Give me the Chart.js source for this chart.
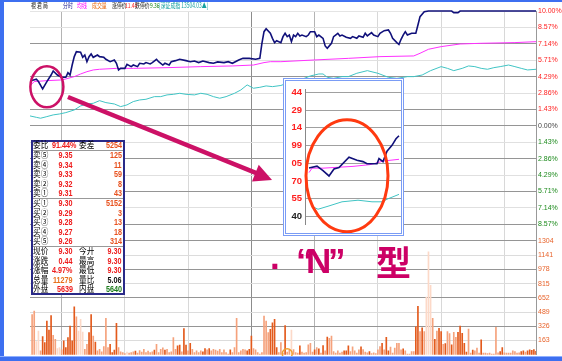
<!DOCTYPE html>
<html>
<head>
<meta charset="utf-8">
<script src="https://cdn.jsdelivr.net/npm/chart.js@4.4.1/dist/chart.umd.min.js"></script>
<style>
  html, body { margin: 0; padding: 0; background: #fff; }
  #wrap { position: relative; width: 562px; height: 361px; overflow: hidden; background: #fff;
          font-family: "Liberation Sans", "Noto Sans CJK SC", sans-serif; }
  #main { position: absolute; left: 0; top: 0; }
  .blue { position: absolute; background: #3d6ff0; }
  .hd { position: absolute; top: 1px; font-size: 7px; line-height: 9px; white-space: nowrap;
        transform: scaleX(.7); transform-origin: 0 0; font-family: "Noto Sans CJK SC", sans-serif; }
  #book { position: absolute; left: 31px; top: 140px; width: 94px; height: 155px; box-sizing: border-box;
          border: 2px solid #2a2a88; background: #fff; }
  .sep { position: absolute; left: 33px; width: 90px; height: 1px; background: #999; }
  .bk { position: absolute; line-height: 10px; height: 10px; white-space: nowrap; }
  .bk.l { font-size: 9px; transform: scaleX(.85); transform-origin: 0 50%; font-family: "Noto Sans CJK SC", sans-serif; }
  .bk.r { font-size: 9px; font-weight: bold; transform: scaleX(.8); transform-origin: 100% 50%; font-family: "Liberation Sans", sans-serif; }
  #inset { position: absolute; left: 283px; top: 78px; width: 121px; height: 158px; box-sizing: border-box;
           border: 3px double #7a9cf5; background: #fff; }
  #insetCv { position: absolute; left: 0; top: 0; }
  .nt { position: absolute; top: 243px; font-size: 35px; line-height: 35px; font-weight: bold; color: #cc0066;
        font-family: "Liberation Sans", "Noto Sans CJK SC", sans-serif; white-space: nowrap; }
</style>
</head>
<body>
<div id="wrap">
  <canvas id="main" width="562" height="361"></canvas>

  <div class="blue" style="left:0;top:0;width:4px;height:361px"></div>
  <div class="blue" style="left:0;top:0;width:562px;height:2px"></div>
  <div class="blue" style="left:0;top:356px;width:562px;height:5px;border-top:1px solid #8fb0ff;box-sizing:border-box"></div>

  <!-- 顶部标题栏 -->
  <span class="hd" style="left:31px;color:#222">視 君 局</span>
  <span class="hd" style="left:63px;color:#1a1a90">分时</span>
  <span class="hd" style="left:77px;color:#ff00ff">均线</span>
  <span class="hd" style="left:92px;color:#e8680c">成交量</span>
  <span class="hd" style="left:112px;color:#222">涨停价</span>
  <span class="hd" style="left:125px;color:#ff2020">11.44</span>
  <span class="hd" style="left:135px;color:#222">跌停价</span>
  <span class="hd" style="left:150px;color:#108010">9.36</span>
  <span class="hd" style="left:159px;color:#14a0a0">[深证成指 13504.03▲]</span>

  <div id="book"></div>

  <div id="inset"><canvas id="insetCv" width="115" height="152"></canvas></div>

  <span class="nt" style="left:270px;top:239px">.</span>
  <span class="nt" style="left:296px">“</span>
  <span class="nt" style="left:306px">N</span>
  <span class="nt" style="left:328px">”</span>
  <span class="nt" style="left:376px;font-family:'Noto Sans CJK SC',sans-serif">型</span>
</div>

<script>
// ================================================================
//  分时图（涨停 "N" 型示意）
//  x : 交易分钟 0..240 ；价格轴为涨跌幅 %，量能轴为手数
// ================================================================

// ── 分时价格线（分钟, 涨跌幅%）────────────────────────────
const priceT   = [0, 3, 4, 6, 8, 10, 11, 13, 15, 17, 18, 19, 20, 21, 22, 24, 25, 26, 27, 28, 29, 30, 32, 33, 35, 36, 38, 40, 41, 42,
                  43, 45, 46, 48, 49, 51, 52, 54, 55, 57, 58, 60, 61, 63, 64, 66, 67, 69, 71, 74, 76, 78, 80, 82, 85, 87, 89, 92, 94, 96,
                  99, 101, 104, 107, 109, 110, 111, 112, 114, 115, 116, 117, 119, 120, 121, 122, 123, 124, 125, 126, 127, 128, 129, 131, 132, 133, 135, 136, 137, 139,
                  140, 141, 143, 144, 146, 147, 148, 150, 152, 153, 155, 156, 158, 159, 160, 162, 163, 165, 166, 168, 170, 171, 172, 174, 175, 176, 177, 178, 179, 181,
                  183, 184, 185, 187, 189, 200, 201, 203, 204, 240];
const pricePct = [3.91, 4.06, 3.86, 3.22, 3.86, 4.43, 4.78, 4.43, 4.23, 4.23, 4.64, 4.43, 5.30, 6.03, 6.46, 6.41, 5.97, 6.17, 5.59, 6.03, 6.26, 5.97, 6.17, 6.03, 5.97, 5.80, 5.59, 5.74, 5.45, 4.87,
                  5.01, 5.01, 5.36, 5.16, 5.30, 5.16, 5.45, 5.39, 5.51, 5.39, 5.51, 5.80, 5.59, 5.30, 5.45, 5.30, 5.59, 5.68, 5.80, 5.68, 5.59, 5.65, 5.51, 5.65, 5.51, 5.45, 5.57, 5.51, 5.59, 5.45,
                  5.74, 5.88, 5.88, 5.80, 5.88, 7.19, 8.20, 8.46, 8.06, 7.62, 7.25, 7.42, 7.25, 7.77, 8.06, 7.77, 7.91, 7.33, 7.91, 7.77, 8.06, 7.83, 7.91, 7.77, 7.91, 8.20, 8.20, 7.77, 7.91, 7.62,
                  6.96, 6.75, 7.19, 7.77, 8.06, 7.83, 7.91, 7.71, 7.62, 7.77, 7.62, 7.83, 7.71, 8.06, 7.83, 8.12, 7.91, 7.77, 8.06, 8.29, 8.35, 8.06, 7.62, 7.25, 7.10, 7.54, 7.91, 8.20, 7.91, 8.06,
                  8.06, 8.78, 9.51, 9.94, 10.00, 10.00, 9.86, 9.86, 10.00, 10.00];

// ── 均价线 ─────────────────────────────────────────────────
const avgT   = [0, 2, 8, 15, 17, 21, 24, 27, 30, 33, 41, 49, 65, 81, 96, 106, 111, 114, 119, 135, 151, 166, 182, 185, 189, 195, 204, 214, 230, 240];
const avgPct = [3.48, 3.86, 3.94, 4.00, 4.09, 4.29, 4.52, 4.72, 4.87, 4.93, 5.01, 5.01, 5.07, 5.16, 5.22, 5.30, 5.51, 5.59, 5.59, 5.74, 5.88, 6.03, 6.09, 6.32, 6.67, 6.90, 7.13, 7.19, 7.25, 7.33];

// ── 大盘（深证成指）叠加线 ─────────────────────────────────
const idxT   = [0, 3, 5, 8, 11, 14, 17, 21, 24, 27, 30, 33, 36, 40, 43, 46, 49, 52, 55, 59, 62, 65, 68, 71, 74, 78, 81, 84, 87, 90,
                93, 97, 100, 103, 106, 109, 112, 115, 119, 124, 129, 133, 137, 139, 141, 144, 148, 151, 155, 160, 165, 170, 174, 179, 182, 186, 190, 195, 198, 201,
                205, 208, 211, 214, 217, 220, 223, 227, 230, 233, 236, 240];
const idxPct = [0.87, 0.75, 0.67, 0.81, 0.96, 1.04, 1.16, 1.39, 1.74, 1.91, 1.97, 2.20, 2.03, 1.91, 1.68, 1.83, 2.12, 2.26, 2.32, 2.55, 2.55, 2.70, 2.75, 2.84, 2.75, 2.70, 2.84, 2.75, 2.55, 2.41,
                2.55, 2.84, 3.13, 3.57, 3.28, 3.36, 3.48, 3.42, 3.52, 3.86, 4.06, 4.35, 4.52, 4.52, 4.23, 4.14, 4.29, 4.29, 4.58, 4.81, 4.58, 4.23, 4.14, 4.29, 4.29, 4.43, 4.81, 5.16, 5.01, 4.81,
                5.01, 5.22, 5.16, 5.01, 4.93, 5.07, 5.16, 5.30, 5.16, 5.01, 4.87, 4.93];

// ── 每分钟成交量（手），分钟 0..240 ─────────────────────────
const volume = [
  0, 461, 499, 150, 272, 45, 208, 140, 386, 283,      450, 223, 178, 72, 83, 57, 159, 83, 197, 329,
  159, 548, 435, 272, 405, 261, 64, 121, 253, 461,    215, 147, 45, 64, 34, 95, 416, 83, 121, 26,
  53, 359, 83, 34, 26, 15, 30, 20, 25, 35,            42, 20, 49, 30, 64, 25, 42, 26, 34, 53,
  121, 26, 64, 79, 53, 64, 26, 34, 197, 64,           102, 110, 34, 299, 110, 45, 132, 64, 26, 45,
  26, 45, 34, 72, 57, 72, 45, 64, 53, 42,             64, 26, 57, 26, 8, 57, 26, 83, 416, 26,
  45, 64, 57, 45, 64, 215, 72, 57, 26, 8,             26, 442, 386, 253, 291, 367, 405, 83, 26, 140,
  20, 333, 30, 50, 283, 60, 25, 19, 102, 30,          19, 25, 113, 132, 30, 57, 83, 68, 19, 106,
  45, 204, 189, 215, 38, 19, 45, 19, 30, 45,          45, 102, 38, 91, 45, 19, 57, 91, 60, 30,
  23, 38, 15, 23, 15, 57, 95, 132, 57, 200,           45, 87, 19, 76, 132, 132, 57, 68, 45, 8,
  8, 38, 38, 321, 556, 265, 310, 265, 662, 1179,      794, 416, 178, 272, 302, 265, 121, 128, 265, 242,
  113, 257, 200, 257, 329, 246, 132, 30, 295, 19,     53, 45, 76, 19, 170, 19, 19, 15, 19, 8,
  8, 314, 23, 38, 83, 23, 19, 19, 19, 45,             38, 19, 23, 38, 45, 30, 45, 57, 50, 60,
  40
];
// 1 = 外盘（主动买）, -1 = 内盘（主动卖）, 0 = 中性
const volDir = [
  0, -1, -1, 0, 0, -1, 1, 1, 1, 1,        1, -1, -1, 0, 0, -1, 1, 1, 1, 1,
  1, 1, -1, 0, 0, 0, -1, -1, 1, 1,        -1, 1, -1, -1, -1, -1, -1, -1, 1, 1,
  1, 1, -1, -1, -1, -1, 0, -1, -1, -1,    1, -1, -1, -1, -1, -1, -1, -1, -1, 1,
  -1, -1, -1, -1, 1, -1, -1, -1, -1, -1,  1, 1, -1, 1, 1, -1, 1, -1, -1, -1,
  -1, -1, 1, 1, -1, 1, -1, -1, -1, -1,    -1, -1, -1, -1, -1, 1, -1, -1, -1, -1,
  -1, -1, -1, 1, 1, 1, -1, -1, -1, -1,    -1, -1, -1, -1, 1, 1, 1, 1, -1, -1,
  -1, 1, -1, -1, 0, -1, -1, -1, 1, -1,    -1, -1, -1, -1, -1, 1, -1, 1, -1, 1,
  -1, 1, -1, -1, -1, -1, -1, -1, -1, 1,   1, 1, -1, -1, -1, -1, -1, 1, -1, -1,
  -1, 1, -1, -1, -1, -1, -1, 1, -1, 1,    1, -1, -1, -1, -1, -1, -1, 1, -1, -1,
  -1, -1, -1, 1, 1, -1, 1, -1, 0, 0,      0, -1, 1, -1, 1, 1, -1, 1, -1, -1,
  1, -1, -1, 1, 1, 1, 1, 1, -1, -1,       1, -1, -1, -1, 1, -1, -1, -1, -1, -1,
  -1, -1, -1, 1, 1, -1, -1, -1, -1, -1,   -1, -1, -1, 1, 1, -1, 1, 1, 1, 1,
  1
];

// ── 坐标刻度 ──────────────────────────────────────────────
const timeTicks = [0, 30, 60, 90, 120, 150, 180, 210, 240];
const pctTicks  = [10.00, 8.57, 7.14, 5.71, 4.29, 2.86, 1.43, 0.00, -1.43, -2.86, -4.29, -5.71, -7.14, -8.57];
const volTicks  = [163, 326, 489, 652, 815, 978, 1141, 1304];

// ── 局部放大图（N 型）────────────────────────────────────
const insetLabels   = ['40', '55', '70', '05', '99', '14', '29', '44'];   // 从下到上
const insetT        = [4, 12, 18, 24, 29, 34, 44, 52, 58, 62, 72, 74, 78, 82, 87, 91, 94];
const insetPrice    = [2.73, 2.83, 2.58, 2.28, 2.67, 2.75, 3.34, 3.17, 3.09, 2.97, 2.97, 3.26, 3.09, 3.68, 4.01, 4.38, 4.55];
const insetAvgT     = [4, 7, 18, 48, 65, 72, 78, 94];
const insetAvg      = [2.47, 2.72, 2.72, 2.82, 2.92, 3.02, 3.12, 3.22];
const insetIdxT     = [7, 13, 23, 37, 53, 67, 77, 83, 94];
const insetIdx      = [0.57, 0.40, 0.57, 0.82, 0.91, 0.82, 0.82, 0.99, 1.24];

// ── 五档盘口 ──────────────────────────────────────────────
const askLabels  = ['卖⑤', '卖④', '卖③', '卖②', '卖①'];
const askPrices  = ['9.35', '9.34', '9.33', '9.32', '9.31'];
const askVols    = ['125', '11', '59', '8', '43'];
const bidLabels  = ['买①', '买②', '买③', '买④', '买⑤'];
const bidPrices  = ['9.30', '9.29', '9.28', '9.27', '9.26'];
const bidVols    = ['5152', '3', '13', '18', '314'];
const quoteLeft  = [['现价', '9.30'], ['涨跌', '0.44'], ['涨幅', '4.97%'], ['总量', '11279'], ['外盘', '5639']];
const quoteRight = [['今开', '9.30'], ['最高', '9.30'], ['最低', '9.30'], ['量比', '5.06'], ['内盘', '5640']];

// ================================================================
const RED = '#ee1c1c', ORG = '#e8501c', GRN = '#1a7a1a';
const pts = (xs, ys) => xs.map((x, i) => ({ x: x, y: ys[i] }));
const tv  = c => (c && c.tick) ? c.tick.value : null;   // tick value (null hors ticks)

// ── 盘口文字（HTML）────────────────────────────────────────
(function buildBook() {
  const wrap = document.getElementById('wrap');
  function put(text, x, yc, color, right) {
    const s = document.createElement('span');
    s.className = 'bk ' + (right ? 'r' : 'l');
    s.textContent = text;
    s.style.top = (yc - 5) + 'px';
    s.style.color = color;
    if (right) s.style.right = (562 - x) + 'px'; else s.style.left = x + 'px';
    wrap.appendChild(s);
  }
  put('委比', 33, 145, '#000'); put('91.44%', 77, 145, RED, true);
  put('委差', 79, 145, '#000'); put('5254', 122, 145, ORG, true);
  const askY = [155, 164.5, 174, 183.5, 193];
  askLabels.forEach(function (l, i) {
    put(l, 33, askY[i], '#000'); put(askPrices[i], 73, askY[i], RED, true); put(askVols[i], 122, askY[i], ORG, true);
  });
  const bidY = [203, 212.5, 222, 231.5, 241];
  bidLabels.forEach(function (l, i) {
    put(l, 33, bidY[i], '#000'); put(bidPrices[i], 73, bidY[i], RED, true); put(bidVols[i], 122, bidY[i], ORG, true);
  });
  const qY = [251, 260.5, 270, 279.5, 289];
  const rightCol = [RED, RED, RED, '#111', GRN];
  const leftCol  = [RED, RED, RED, '#e8701c', RED];
  quoteLeft.forEach(function (q, i) {
    put(q[0], 33, qY[i], '#000'); put(q[1], 73, qY[i], leftCol[i], true);
    put(quoteRight[i][0], 79, qY[i], '#000'); put(quoteRight[i][1], 122, qY[i], rightCol[i], true);
  });
  [150, 198, 246].forEach(function (y) {
    const d = document.createElement('div'); d.className = 'sep'; d.style.top = y + 'px'; wrap.appendChild(d);
  });
})();

// ── 圈 + 箭头 ─────────────────────────────────────────────
const markPlugin = {
  id: 'marks',
  afterDatasetsDraw(chart) {
    const c = chart.ctx, x = chart.scales.x, y = chart.scales.yp;
    c.save();
    c.strokeStyle = '#cc1166'; c.fillStyle = '#cc1166';
    c.lineWidth = 2.5;
    c.beginPath();
    c.ellipse(x.getPixelForValue(8), y.getPixelForValue(3.4), 16.5, 20.5, 0, 0, Math.PI * 2);
    c.stroke();

    const x0 = x.getPixelForValue(18), y0 = y.getPixelForValue(2.52);
    const x1 = x.getPixelForValue(114.8), y1 = y.getPixelForValue(-4.7);
    const a = Math.atan2(y1 - y0, x1 - x0), hl = 18, hw = 9;
    const bx = x1 - hl * Math.cos(a), by = y1 - hl * Math.sin(a);
    c.lineWidth = 4.5;
    c.beginPath(); c.moveTo(x0, y0); c.lineTo(bx + 1, by); c.stroke();
    c.beginPath();
    c.moveTo(x1, y1);
    c.lineTo(bx + hw * Math.sin(a), by - hw * Math.cos(a));
    c.lineTo(bx - hw * Math.sin(a), by + hw * Math.cos(a));
    c.closePath(); c.fill();

    // 底部小光标
    c.strokeStyle = '#f0a030'; c.lineWidth = 1.5;
    c.beginPath(); c.arc(x.getPixelForValue(122), chart.chartArea.bottom - 1, 5, 0, Math.PI * 2); c.stroke();
    c.restore();
  }
};

const pctK = v => Math.round(v * 7 / 10);

new Chart(document.getElementById('main'), {
  type: 'line',
  data: {
    datasets: [
      { data: pts(priceT, pricePct), yAxisID: 'yp', borderColor: '#10107a', borderWidth: 1.6,
        pointRadius: 0, tension: 0, order: 1, clip: { left: 0, top: 3, right: 0, bottom: 0 } },
      { data: pts(avgT, avgPct), yAxisID: 'yp', borderColor: '#ff30ff', borderWidth: 1,
        pointRadius: 0, tension: 0, order: 2 },
      { data: pts(idxT, idxPct), yAxisID: 'yp', borderColor: '#40c4c4', borderWidth: 1,
        pointRadius: 0, tension: 0, order: 3 },
      { type: 'bar', data: volume.map((v, t) => ({ x: t, y: v })), yAxisID: 'yv', order: 4,
        barThickness: 1,
        backgroundColor: volDir.map(d => d > 0 ? '#e35a1c' : (d < 0 ? '#f5a27c' : '#fcd9c8')) }
    ]
  },
  options: {
    responsive: false,
    animation: false,
    events: [],
    layout: { padding: { left: 30, top: 11, right: 0, bottom: 6 } },
    plugins: { legend: { display: false }, tooltip: { enabled: false } },
    scales: {
      x: {
        type: 'linear', min: 0, max: 240, offset: false,
        afterBuildTicks: s => { s.ticks = timeTicks.map(v => ({ value: v })); },
        ticks: { display: false },
        border: { display: false, color: '#999' },
        grid: { drawTicks: false,
                color: c => { const v = tv(c);
                              if (v === null || v === 0) return '#999';
                              if (v === 120) return '#8c8c8c';
                              return v % 120 === 30 ? '#b4b4b4' : '#d8d8d8'; } }
      },
      yp: {
        type: 'linear', position: 'right', min: -10, max: 10,
        stack: 'main', stackWeight: 230,
        afterBuildTicks: s => { s.ticks = pctTicks.map(v => ({ value: v })); },
        afterFit: s => { s.width = 26; },
        border: { display: true, color: '#999' },
        grid: { drawTicks: false,
                color: c => { const v = tv(c); if (v === null) return '#999';
                              const k = pctK(v);
                              if (k === 7) return '#e4e4e4';
                              return ((k > 0 && k % 2 !== 0) || (k <= 0 && k % 2 === 0)) ? '#959595' : '#e0e0e0'; } },
        ticks: {
          autoSkip: false,
          padding: 2,
          font: { family: 'Liberation Sans', size: 7 },
          color: c => { const v = tv(c); return v === null ? '#444' : (v > 0.01 ? '#ff2020' : (v < -0.01 ? '#1c8a1c' : '#444')); },
          callback: v => Math.abs(v).toFixed(2) + '%'
        }
      },
      yv: {
        type: 'linear', position: 'right', min: 0, max: 1304,
        stack: 'main', stackWeight: 114,
        afterBuildTicks: s => { s.ticks = volTicks.map(v => ({ value: v })); },
        afterFit: s => { s.width = 26; },
        border: { display: true, color: '#999' },
        grid: { drawTicks: false,
                color: c => { const v = tv(c); if (v === null) return '#999';
                              return (Math.round(v / 163) % 2 === 0) ? '#959595' : '#dcdcdc'; } },
        ticks: {
          autoSkip: false,
          padding: 2,
          font: { family: 'Liberation Sans', size: 7 },
          color: '#e8642c',
          callback: v => String(v)
        }
      }
    }
  },
  plugins: [markPlugin]
});

// ── 局部放大图 ────────────────────────────────────────────
const ellipsePlugin = {
  id: 'ellipse',
  afterDatasetsDraw(chart) {
    const c = chart.ctx, x = chart.scales.x, y = chart.scales.y;
    c.save();
    c.strokeStyle = '#ff3a10'; c.lineWidth = 3;
    c.beginPath();
    c.ellipse(x.getPixelForValue(42), y.getPixelForValue(2.29), 41, 56, 0, 0, Math.PI * 2);
    c.stroke();
    c.restore();
  }
};

new Chart(document.getElementById('insetCv'), {
  type: 'line',
  data: {
    datasets: [
      { data: pts(insetT, insetPrice), borderColor: '#10107a', borderWidth: 1.6, pointRadius: 0, tension: 0, order: 1 },
      { data: pts(insetAvgT, insetAvg), borderColor: '#ff30ff', borderWidth: 1, pointRadius: 0, tension: 0, order: 2 },
      { data: pts(insetIdxT, insetIdx), borderColor: '#40c4c4', borderWidth: 1, pointRadius: 0, tension: 0, order: 3 }
    ]
  },
  options: {
    responsive: false,
    animation: false,
    events: [],
    layout: { padding: 0 },
    plugins: { legend: { display: false }, tooltip: { enabled: false } },
    scales: {
      x: { type: 'linear', min: 0, max: 96, display: false },
      y: {
        type: 'linear', position: 'left', min: -0.45, max: 7.15,
        afterBuildTicks: s => { s.ticks = insetLabels.map((l, i) => ({ value: i })); },
        afterFit: s => { s.width = 19; },
        border: { display: true, color: '#888' },
        grid: { drawTicks: false, color: '#a0a0a0' },
        ticks: {
          autoSkip: false,
          padding: 3,
          font: { family: 'Liberation Sans', size: 9.5, weight: 'bold' },
          color: c => tv(c) === 0 ? '#222' : '#ff2020',
          callback: v => insetLabels[v]
        }
      }
    }
  },
  plugins: [ellipsePlugin]
});
</script>
</body>
</html>
